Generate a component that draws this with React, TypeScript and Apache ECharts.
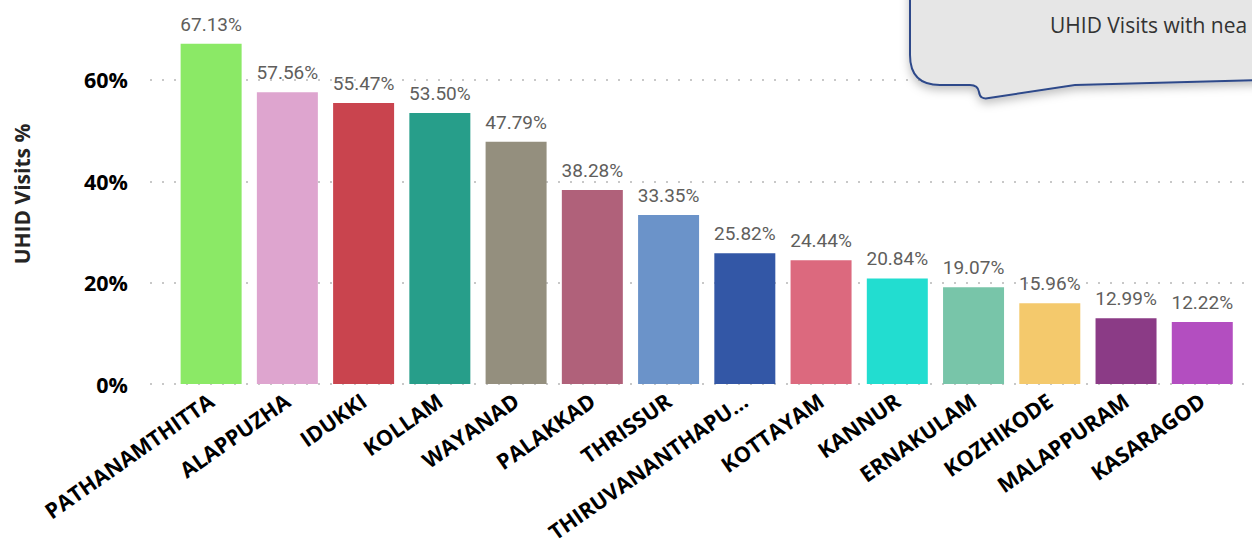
import React, { useEffect, useRef } from "react";
import * as echarts from "echarts";

const categories = [
  "PATHANAMTHITTA",
  "ALAPPUZHA",
  "IDUKKI",
  "KOLLAM",
  "WAYANAD",
  "PALAKKAD",
  "THRISSUR",
  "THIRUVANANTHAPURAM",
  "KOTTAYAM",
  "KANNUR",
  "ERNAKULAM",
  "KOZHIKODE",
  "MALAPPURAM",
  "KASARAGOD",
];
const values = [67.13, 57.56, 55.47, 53.5, 47.79, 38.28, 33.35, 25.82, 24.44, 20.84, 19.07, 15.96, 12.99, 12.22];
const barColors = [
  "#8BE966",
  "#DEA5CF",
  "#C9444E",
  "#279E8A",
  "#948F7E",
  "#B0617A",
  "#6B93C9",
  "#3357A6",
  "#DC697E",
  "#22DDD0",
  "#78C5A9",
  "#F4C96C",
  "#8B3B86",
  "#B34EC0",
];
const yAxisTitle = "UHID Visits %";
const calloutText = "UHID Visits with nea";

const calloutPath =
  "M 910 -20 L 910 55 Q 910 85 940 85 L 970 85 Q 978 85 979 92 Q 980 100 989 98 L 1075 85 L 1262 80 L 1262 -20 Z";

let registered = false;
function ensureShape() {
  if (registered) return;
  echarts.graphic.registerShape("callout", (echarts.graphic as any).extendPath(calloutPath, {}));
  registered = true;
}

export default function App() {
  const ref = useRef<HTMLDivElement>(null);
  useEffect(() => {
    if (!ref.current) return;
    ensureShape();
    const chart = echarts.init(ref.current, null, { renderer: "svg" });
    const top = 29.3;
    const bottom = 161;
    chart.setOption({
      animation: false,
      backgroundColor: "#ffffff",
      grid: [
        { left: 173, right: 11.6, top, bottom },
        { left: 150, right: 4, top, bottom },
      ],
      xAxis: [
        {
          type: "category",
          gridIndex: 0,
          data: categories,
          axisLine: { show: false },
          axisTick: { show: false },
          axisLabel: {
            interval: 0,
            rotate: 35,
            margin: 14,
            color: "#000000",
            fontFamily: "Open Sans",
            fontWeight: "bold",
            fontSize: 21.5,
            formatter: (v: string) => (v.length > 16 ? v.slice(0, 15) + "..." : v),
          },
        },
        { type: "value", gridIndex: 1, show: false, min: 0, max: 1 },
      ],
      yAxis: [
        { type: "value", gridIndex: 0, min: 0, max: 70, interval: 20, show: false, splitLine: { show: false } },
        {
          type: "value",
          gridIndex: 1,
          min: 0,
          max: 70,
          interval: 20,
          axisLine: { show: false },
          axisTick: { show: false },
          axisLabel: {
            formatter: "{value}%",
            showMaxLabel: false,
            margin: 22,
            color: "#000000",
            fontFamily: "Open Sans",
            fontWeight: "bold",
            fontSize: 21.5,
          },
          splitLine: {
            show: true,
            showMaxLine: false,
            lineStyle: { type: [2, 10], color: "#C8C8C8", width: 2 },
          },
        },
      ],
      series: [
        {
          type: "bar",
          xAxisIndex: 0,
          yAxisIndex: 0,
          barCategoryGap: "20%",
          data: values.map((v, i) => ({ value: v, itemStyle: { color: barColors[i] } })),
          label: {
            show: true,
            position: "top",
            distance: 10,
            color: "#605E5C",
            fontFamily: "Roboto",
            fontSize: 19,
            formatter: (p: any) => p.value.toFixed(2) + "%",
          },
        },
      ],
      graphic: [
        {
          type: "text",
          x: 22,
          y: 194,
          rotation: Math.PI / 2,
          style: {
            text: yAxisTitle,
            fill: "#252423",
            font: "bold 21px 'Open Sans'",
            align: "center",
            verticalAlign: "middle",
          },
        },
        {
          type: "callout",
          x: 0,
          y: 0,
          z: 100,
          style: {
            fill: "#E6E6E6",
            stroke: "#2F4A8A",
            lineWidth: 2,
            shadowBlur: 10,
            shadowOffsetY: 4,
            shadowColor: "rgba(0,0,0,0.25)",
          },
        },
        {
          type: "text",
          x: 1050,
          y: 25,
          z: 101,
          style: {
            text: calloutText,
            fill: "#333333",
            font: "21px 'Open Sans'",
            align: "left",
            verticalAlign: "middle",
          },
        },
      ],
    });
    return () => chart.dispose();
  }, []);
  return (
    <div
      ref={ref}
      style={{ position: "absolute", left: 0, top: 0, width: 1252, height: 545 }}
    />
  );
}
